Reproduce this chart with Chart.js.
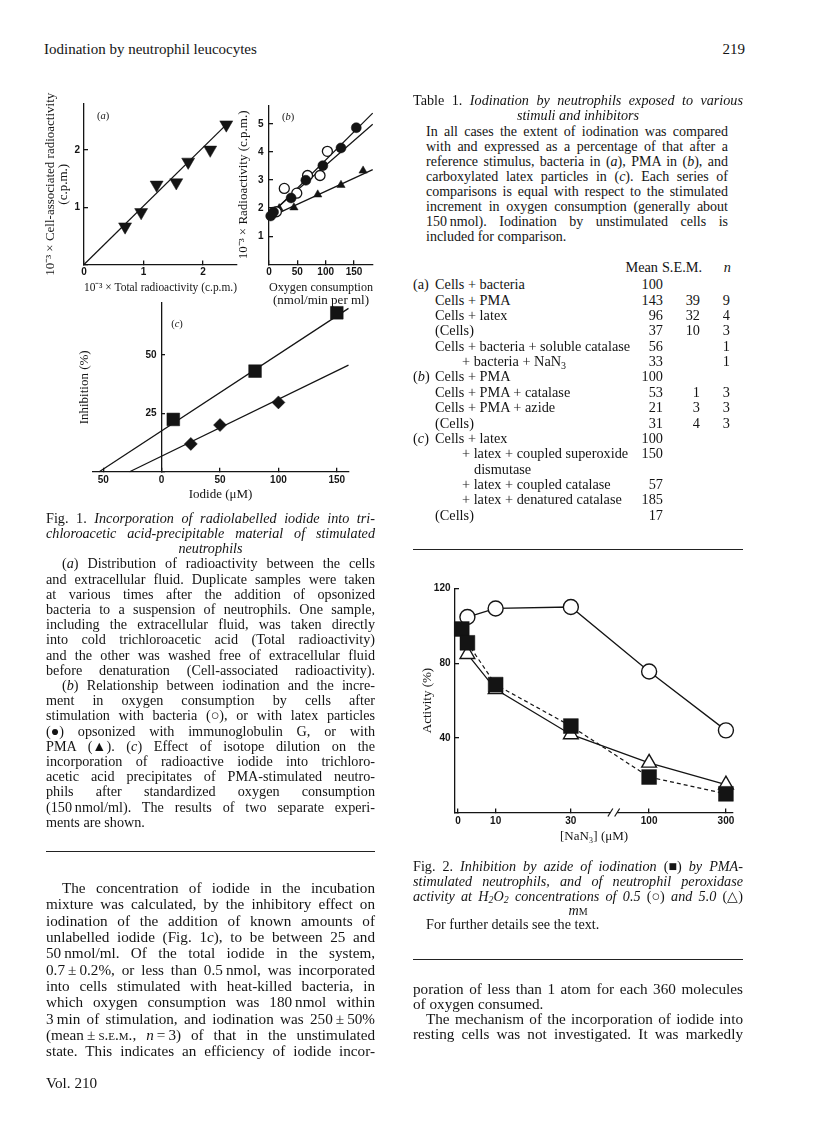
<!DOCTYPE html>
<html>
<head>
<meta charset="utf-8">
<title>Iodination by neutrophil leucocytes</title>
<script src="https://cdn.jsdelivr.net/npm/chart.js@4.4.1/dist/chart.umd.min.js"></script>
<style>
  body { margin: 0; background: #fff; }
  #page { position: relative; width: 816px; height: 1136px; overflow: hidden;
          font-family: "Liberation Serif", "Times New Roman", serif; color: #141414; }
  .blk { position: absolute; }
  .cap { font-size: 14.2px; line-height: 15.2px; }
  .body { font-size: 15.2px; }
  .j { text-align: justify; text-align-last: justify; }
  .c { text-align: center; }
  .ind { padding-left: 16px; }
  .ind2 { padding-left: 13px; }
  .sc { font-variant: small-caps; }
  .sym { display: inline-block; font-style: normal; }
  sub { font-size: 0.7em; line-height: 0; vertical-align: -0.25em; }
  .rule { position: absolute; height: 1.4px; background: #222; }
  .tag { position: absolute; font-size: 10.5px; transform: translate(-50%, -50%); }
  canvas { position: absolute; }
  .trow { position: absolute; left: 0; width: 330px; height: 15.36px; line-height: 15.36px; font-size: 14.3px; white-space: nowrap; }
  .trow span { position: absolute; }
</style>
</head>
<body>
<div id="page">

  <div class="blk body" style="left:44px;top:41px;line-height:16px;font-size:15px">Iodination by neutrophil leucocytes</div>
  <div class="blk body" style="left:645px;top:41px;width:100px;text-align:right;line-height:16px;font-size:15px">219</div>

  <canvas id="figA" width="220" height="212" style="left:30px;top:90px;width:220px;height:212px"></canvas>
  <canvas id="figB" width="152" height="218" style="left:228px;top:90px;width:152px;height:218px"></canvas>
  <canvas id="figC" width="292" height="212" style="left:66px;top:293px;width:292px;height:212px"></canvas>
  <div class="tag" style="left:103px;top:115px">(<i>a</i>)</div>
  <div class="tag" style="left:288px;top:116px">(<i>b</i>)</div>
  <div class="tag" style="left:177px;top:323px">(<i>c</i>)</div>

  <div class="blk cap" style="left:46px;top:510.7px;width:329px">
    <div class="j">Fig. 1. <i>Incorporation of radiolabelled iodide into tri-</i></div>
    <div class="j"><i>chloroacetic acid-precipitable material of stimulated</i></div>
    <div class="c"><i>neutrophils</i></div>
    <div class="j ind">(<i>a</i>) Distribution of radioactivity between the cells</div>
    <div class="j">and extracellular fluid. Duplicate samples were taken</div>
    <div class="j">at various times after the addition of opsonized</div>
    <div class="j">bacteria to a suspension of neutrophils. One sample,</div>
    <div class="j">including the extracellular fluid, was taken directly</div>
    <div class="j">into cold trichloroacetic acid (Total radioactivity)</div>
    <div class="j">and the other was washed free of extracellular fluid</div>
    <div class="j">before denaturation (Cell-associated radioactivity).</div>
    <div class="j ind">(<i>b</i>) Relationship between iodination and the incre-</div>
    <div class="j">ment in oxygen consumption by cells after</div>
    <div class="j">stimulation with bacteria <span class="sym">(○),</span> or with latex particles</div>
    <div class="j"><span class="sym">(●)</span> opsonized with immunoglobulin G, or with</div>
    <div class="j">PMA <span class="sym">(▲).</span> (<i>c</i>) Effect of isotope dilution on the</div>
    <div class="j">incorporation of radioactive iodide into trichloro-</div>
    <div class="j">acetic acid precipitates of PMA-stimulated neutro-</div>
    <div class="j">phils after standardized oxygen consumption</div>
    <div class="j">(150&#8239;nmol/ml). The results of two separate experi-</div>
    <div>ments are shown.</div>
  </div>

  <div class="rule" style="left:46px;top:851px;width:329px"></div>

  <div class="blk body" style="left:46px;top:880.2px;width:329px;line-height:16.3px">
    <div class="j ind">The concentration of iodide in the incubation</div>
    <div class="j">mixture was calculated, by the inhibitory effect on</div>
    <div class="j">iodination of the addition of known amounts of</div>
    <div class="j">unlabelled iodide (Fig. 1<i>c</i>), to be between 25 and</div>
    <div class="j">50&#8239;nmol/ml. Of the total iodide in the system,</div>
    <div class="j">0.7&#8239;±&#8239;0.2%, or less than 0.5&#8239;nmol, was incorporated</div>
    <div class="j">into cells stimulated with heat-killed bacteria, in</div>
    <div class="j">which oxygen consumption was 180&#8239;nmol within</div>
    <div class="j">3&#8239;min of stimulation, and iodination was 250&#8239;±&#8239;50%</div>
    <div class="j">(mean&#8239;±&#8239;<span class="sc">s.e.m.</span>, <i>n</i>&#8239;=&#8239;3) of that in the unstimulated</div>
    <div class="j">state. This indicates an efficiency of iodide incor-</div>
  </div>
  <div class="blk body" style="left:46px;top:1075px;line-height:16.3px">Vol. 210</div>

  <div class="blk cap" style="left:413px;top:92.5px;width:330px;line-height:15px">
    <div class="j">Table 1. <i>Iodination by neutrophils exposed to various</i></div>
    <div class="c"><i>stimuli and inhibitors</i></div>
  </div>
  <div class="blk cap" style="left:426px;top:124.2px;width:302px;line-height:15px;font-size:14px">
    <div class="j">In all cases the extent of iodination was compared</div>
    <div class="j">with and expressed as a percentage of that after a</div>
    <div class="j">reference stimulus, bacteria in (<i>a</i>), PMA in (<i>b</i>), and</div>
    <div class="j">carboxylated latex particles in (<i>c</i>). Each series of</div>
    <div class="j">comparisons is equal with respect to the stimulated</div>
    <div class="j">increment in oxygen consumption (generally about</div>
    <div class="j">150&#8239;nmol). Iodination by unstimulated cells is</div>
    <div>included for comparison.</div>
  </div>
  <div class="blk" style="left:413px;top:260px;width:330px">
    <div class="trow"><span style="right:85px">Mean</span><span style="right:41px">S.E.M.</span><span style="right:12px"><i>n</i></span></div>
  </div>
  <div class="blk" id="tbl" style="left:413px;top:277.3px;width:330px"></div>
  <div class="rule" style="left:413px;top:548.5px;width:330px"></div>

  <canvas id="fig2" width="340" height="272" style="left:405px;top:574px;width:340px;height:272px"></canvas>

  <div class="blk cap" style="left:413px;top:859px;width:330px;line-height:15px">
    <div class="j">Fig. 2. <i>Inhibition by azide of iodination</i> <span class="sym">(■)</span> <i>by PMA-</i></div>
    <div class="j"><i>stimulated neutrophils, and of neutrophil peroxidase</i></div>
    <div class="j"><i>activity at H<sub>2</sub>O<sub>2</sub> concentrations of 0.5</i> <span class="sym">(○)</span> <i>and 5.0</i> <span class="sym">(△)</span></div>
    <div class="c" style="line-height:13px"><i>m</i><span class="sc">m</span></div>
    <div class="ind2">For further details see the text.</div>
  </div>
  <div class="rule" style="left:413px;top:959px;width:330px"></div>

  <div class="blk body" style="left:413px;top:980.8px;width:330px;line-height:15px">
    <div class="j">poration of less than 1 atom for each 360 molecules</div>
    <div>of oxygen consumed.</div>
    <div class="j ind2">The mechanism of the incorporation of iodide into</div>
    <div class="j">resting cells was not investigated. It was markedly</div>
  </div>
</div>

<script>
// Fig. 1(a): cell-associated vs total radioactivity (10^-3 x c.p.m.)
const aTotal = [0.69, 0.96, 1.22, 1.55, 1.75, 2.12, 2.39];
const aCell = [0.66, 0.91, 1.39, 1.43, 1.79, 2.00, 2.44];
const aFitTotal = [0, 2.42];
const aFitCell = [0, 2.47];
const aTicksX = [0, 1, 2];
const aTicksY = [0, 1, 2];

// Fig. 1(b): radioactivity vs oxygen consumption
const bBactO2 = [13, 27, 49, 68, 90, 103];
const bBactI = [1.87, 2.70, 2.53, 3.16, 3.16, 4.02];
const bLatexO2 = [3, 8, 39, 65, 95, 127, 154];
const bLatexI = [1.72, 1.86, 2.36, 2.99, 3.51, 4.14, 4.86];
const bPmaO2 = [4, 18, 44, 86, 127, 166];
const bPmaI = [1.74, 1.99, 2.02, 2.48, 2.82, 3.33];
const bFitO2 = [0, 183];
const bFitBact = [1.76, 4.98];
const bFitLatex = [1.70, 5.38];
const bFitPma = [1.67, 3.37];
const bTicksX = [0, 50, 100, 150];
const bTicksY = [1, 2, 3, 4, 5];

// Fig. 1(c): inhibition vs added iodide, two experiments
const cIodide1 = [10, 80, 150];
const cInhib1 = [22.4, 43.1, 68.1];
const cIodide2 = [25, 50, 100];
const cInhib2 = [11.9, 20.0, 29.7];
const cFit1Iodide = [-53.4, 160];
const cFit1Inhib = [0, 70];
const cFit2Iodide = [-27.4, 160];
const cFit2Inhib = [0, 45.7];
const cTicksX = [-50, 0, 50, 100, 150];
const cTicksY = [0, 25, 50];

// Fig. 2: activity (%) vs [NaN3] (uM)
const azideIod = [1, 2.5, 10, 30, 100, 300];
const iodination = [98.3, 90.9, 68.5, 46.3, 19.0, 10.0];
const azidePer = [2.5, 10, 30, 100, 300];
const perox05 = [104.7, 109.3, 110.1, 75.5, 44.0];
const perox50 = [84.8, 66.0, 41.8, 26.6, 14.9];
const fig2TicksX = [0, 10, 30, 100, 300];
const fig2TicksY = [0, 40, 80, 120];

// Table 1
const tableRows = [
  ['(a)', 'Cells + bacteria', 0, '100', '', ''],
  ['', 'Cells + PMA', 0, '143', '39', '9'],
  ['', 'Cells + latex', 0, '96', '32', '4'],
  ['', '(Cells)', 0, '37', '10', '3'],
  ['', 'Cells + bacteria + soluble catalase', 0, '56', '', '1'],
  ['', '+ bacteria + NaN<sub>3</sub>', 1, '33', '', '1'],
  ['(<i>b</i>)', 'Cells + PMA', 0, '100', '', ''],
  ['', 'Cells + PMA + catalase', 0, '53', '1', '3'],
  ['', 'Cells + PMA + azide', 0, '21', '3', '3'],
  ['', '(Cells)', 0, '31', '4', '3'],
  ['(<i>c</i>)', 'Cells + latex', 0, '100', '', ''],
  ['', '+ latex + coupled superoxide', 1, '150', '', ''],
  ['', 'dismutase', 2, '', '', ''],
  ['', '+ latex + coupled catalase', 1, '57', '', ''],
  ['', '+ latex + denatured catalase', 1, '185', '', ''],
  ['', '(Cells)', 0, '17', '', '']
];

// table layout
const labelIndent = [22, 49, 61];
const tbl = document.getElementById('tbl');
tableRows.forEach((r, i) => {
  const row = document.createElement('div');
  row.className = 'trow';
  row.style.top = (i * 15.36) + 'px';
  row.innerHTML = '<span style="left:0">' + r[0] + '</span>' +
    '<span style="left:' + labelIndent[r[2]] + 'px">' + r[1] + '</span>' +
    '<span style="right:80px">' + r[3] + '</span>' +
    '<span style="right:43px">' + r[4] + '</span>' +
    '<span style="right:13px">' + r[5] + '</span>';
  tbl.appendChild(row);
});

// charts
const ink = '#141414';
const tickFont = { family: "'Liberation Sans', Arial, sans-serif", size: 10, weight: 'bold', lineHeight: 1.2 };
const titleFont = { family: "'Liberation Serif', 'Times New Roman', serif", size: 13, lineHeight: 1.0 };

const pts = (xs, ys, f) => xs.map((x, i) => ({ x: f ? f(x) : x, y: ys[i] }));

// broken x axis of Fig. 2: linear up to 30, log above the break
const brk = c => c <= 30 ? c : 50.8 + 42.8 * Math.log10(c / 100);

function axisOpts(o) {
  return {
    type: 'linear',
    position: o.position,
    min: o.min,
    max: o.max,
    afterBuildTicks: s => { s.ticks = o.ticks.map(v => ({ value: v })); },
    afterFit: s => {
      if (o.box == null) return;
      if (s.isHorizontal()) s.height = o.box; else s.width = o.box;
    },
    border: { display: true, color: ink, width: 1.3 },
    grid: { display: true, drawOnChartArea: false, drawTicks: true, tickLength: -4, color: ink, lineWidth: 1.3 },
    ticks: {
      padding: o.pad, font: tickFont, color: ink, autoSkip: false, maxRotation: 0,
      callback: o.label || (v => (o.hideZero && v === 0) ? '' : String(v))
    },
    title: o.title
      ? { display: true, text: o.title, font: titleFont, color: ink, padding: { top: o.tpad, bottom: o.tpad } }
      : { display: false }
  };
}

function baseOptions(padding, scales) {
  return {
    responsive: false,
    animation: false,
    events: [],
    layout: { padding },
    plugins: { legend: { display: false }, tooltip: { enabled: false } },
    scales
  };
}

function markers(data, style, radius, filled, extra) {
  return Object.assign({
    data, showLine: false, pointStyle: style, pointRadius: radius,
    pointBackgroundColor: filled ? ink : '#fff', pointBorderColor: ink,
    pointBorderWidth: filled ? 0.5 : 1.3, clip: false
  }, extra || {});
}

function fitLine(data) {
  return { data, showLine: true, pointRadius: 0, borderColor: ink, borderWidth: 1.25, clip: false };
}

// Fig. 1(a)
new Chart(document.getElementById('figA'), {
  type: 'scatter',
  data: {
    datasets: [
      markers(pts(aTotal, aCell), 'triangle', 7.5, true, { pointRotation: 180 }),
      fitLine(pts(aFitTotal, aFitCell))
    ]
  },
  options: baseOptions({ top: 10, right: 13, left: 0, bottom: 0 }, {
    x: axisOpts({ position: 'bottom', min: 0, max: 2.57, ticks: aTicksX, box: 37.5, pad: 5.8,
                  title: '10\u207B\u00B3 \u00D7 Total radioactivity (c.p.m.)', tpad: 7.5 }),
    y: axisOpts({ position: 'left', min: 0, max: 2.8, ticks: aTicksY, hideZero: true, box: 54, pad: 8,
                  title: ['10\u207B\u00B3 \u00D7 Cell-associated radioactivity', '(c.p.m.)'], tpad: 14.5 })
  })
});

// Fig. 1(b)
new Chart(document.getElementById('figB'), {
  type: 'scatter',
  data: {
    datasets: [
      markers(pts(bLatexO2, bLatexI), 'circle', 5, true),
      markers(pts(bBactO2, bBactI), 'circle', 5, false),
      markers(pts(bPmaO2, bPmaI), 'triangle', 4.8, true),
      fitLine(pts(bFitO2, bFitLatex)),
      fitLine(pts(bFitO2, bFitBact)),
      fitLine(pts(bFitO2, bFitPma))
    ]
  },
  options: baseOptions({ top: 10, right: 7, left: 0, bottom: 0 }, {
    x: axisOpts({ position: 'bottom', min: 0, max: 183.5, ticks: bTicksX, box: 43.7, pad: 5.7,
                  title: ['Oxygen consumption', '(nmol/min per ml)'], tpad: 0.5 }),
    y: axisOpts({ position: 'left', min: 0, max: 5.65, ticks: bTicksY, box: 41, pad: 9.5,
                  title: '10\u207B\u00B3 \u00D7 Radioactivity (c.p.m.)', tpad: 8.8 })
  })
});

// Fig. 1(c): y axis crosses at iodide = 0
new Chart(document.getElementById('figC'), {
  type: 'scatter',
  data: {
    datasets: [
      markers(pts(cIodide1, cInhib1), 'rect', 9, true, { yAxisID: 'y' }),
      markers(pts(cIodide2, cInhib2), 'rectRot', 6.5, true, { yAxisID: 'y' }),
      Object.assign(fitLine(pts(cFit1Iodide, cFit1Inhib)), { yAxisID: 'y' }),
      Object.assign(fitLine(pts(cFit2Iodide, cFit2Inhib)), { yAxisID: 'y' })
    ]
  },
  options: baseOptions({ top: 10, right: 6.3, left: 0, bottom: 0 }, {
    x: axisOpts({ position: 'bottom', min: -59, max: 160, ticks: cTicksX, box: 33.3, pad: 6.6,
                  title: 'Iodide (\u03BCM)', tpad: 4.2, label: v => String(Math.abs(v)) }),
    y: axisOpts({ position: { x: 0 }, min: 0, max: 72.3, ticks: cTicksY, pad: 4,
                  label: v => v === 0 ? '' : v + '\u2002' }),
    yT: {
      type: 'linear', position: 'left', min: 0, max: 1,
      afterFit: s => { s.width = 26.7; },
      ticks: { display: false }, grid: { display: false }, border: { display: false },
      title: { display: true, text: 'Inhibition (%)', font: titleFont, color: ink, padding: { top: 12.5, bottom: 12.5 } }
    }
  })
});

// gap with slashes in the x axis of Fig. 2
const axisBreak = {
  id: 'axisBreak',
  afterDraw(chart) {
    const { ctx, chartArea } = chart;
    const sx = chart.scales.x;
    const a = sx.getPixelForValue(40.5), b = sx.getPixelForValue(42.3);
    const y0 = chartArea.bottom;
    ctx.save();
    ctx.fillStyle = '#fff';
    ctx.fillRect(a, y0 - 3, b - a, 6);
    ctx.strokeStyle = ink;
    ctx.lineWidth = 1.2;
    [a, b].forEach(p => {
      ctx.beginPath();
      ctx.moveTo(p - 2.5, y0 + 4);
      ctx.lineTo(p + 2.5, y0 - 4);
      ctx.stroke();
    });
    ctx.restore();
  }
};

new Chart(document.getElementById('fig2'), {
  type: 'scatter',
  data: {
    datasets: [
      markers(pts(azideIod, iodination, brk), 'rect', 10.5, true,
              { showLine: true, borderColor: ink, borderWidth: 1.2, borderDash: [4, 3] }),
      markers(pts(azidePer, perox50, brk), 'triangle', 8.5, false,
              { showLine: true, borderColor: ink, borderWidth: 1.3, pointBorderWidth: 1.4 }),
      markers(pts(azidePer, perox05, brk), 'circle', 7.5, false,
              { showLine: true, borderColor: ink, borderWidth: 1.3, pointBorderWidth: 1.4 })
    ]
  },
  options: baseOptions({ top: 10, right: 12, left: 0, bottom: 0 }, {
    x: axisOpts({ position: 'bottom', min: -0.8, max: 73.1, ticks: fig2TicksX.map(brk), box: 33.5, pad: 6.8,
                  title: '[NaN\u2083] (\u03BCM)', tpad: 2.8, label: (v, i) => String(fig2TicksX[i]) }),
    y: axisOpts({ position: 'left', min: 0, max: 120, ticks: fig2TicksY, hideZero: true, box: 50, pad: 8.5,
                  title: 'Activity (%)', tpad: 16.3 })
  }),
  plugins: [axisBreak]
});
</script>
</body>
</html>
